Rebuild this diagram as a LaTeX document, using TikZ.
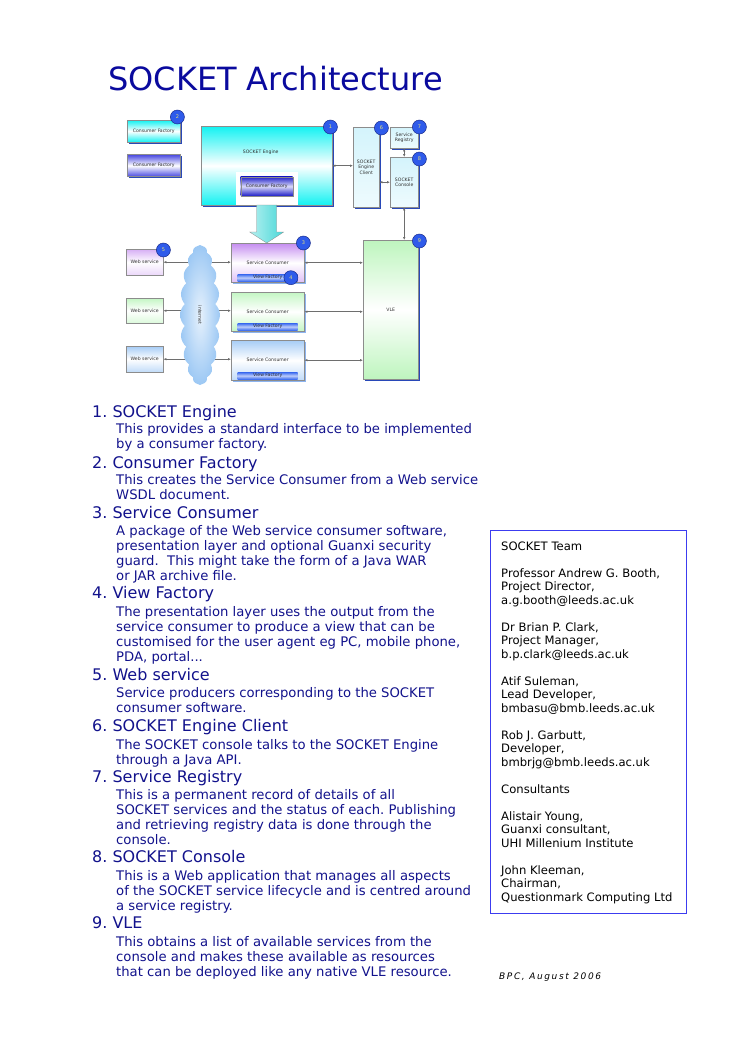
\documentclass[tikz,border=0pt]{standalone}
\usepackage{fontspec}
\setmainfont{DejaVu Sans}
\usepackage{tikz}
\usetikzlibrary{positioning,calc,shapes.symbols,shadows,arrows.meta}
\frenchspacing
\definecolor{titleblue}{HTML}{0A0A9E}
\definecolor{navy}{HTML}{12128C}
\definecolor{teamblue}{HTML}{3C3CF0}
\definecolor{boxline}{HTML}{8C8C8C}
\definecolor{boxtext}{HTML}{303030}
\definecolor{shadowblue}{HTML}{2848B8}
\definecolor{shadowlight}{HTML}{8CB4F0}
\definecolor{badgeblue}{HTML}{2F5BEA}
\definecolor{badgeedge}{HTML}{1A2C8C}
\definecolor{badgetext}{HTML}{E6E27A}
\definecolor{engcyan}{HTML}{12F2F2}
\definecolor{cfblue}{HTML}{4848E0}
\definecolor{cfdark}{HTML}{2020C8}
\definecolor{paleblue}{HTML}{D4F4FC}
\definecolor{vlegreen}{HTML}{BEF5BE}
\definecolor{scpurple}{HTML}{C58CF0}
\definecolor{scgreen}{HTML}{C4F6C4}
\definecolor{scblue}{HTML}{A6CCF6}
\definecolor{barblue}{HTML}{3C6CF0}
\definecolor{cloudblue}{HTML}{9CC8F4}
\definecolor{arrowcyan}{HTML}{48D8D8}
\definecolor{linegray}{HTML}{6E6E6E}

\begin{document}
\begin{tikzpicture}[x=1pt,y=-1pt,
  font=\fontsize{4.6}{5.4}\selectfont,
  every node/.style={align=center},
  box/.style={rectangle,draw=boxline,line width=0.4pt,inner sep=0pt,anchor=north west,text=boxtext},
  shad/.style={drop shadow={shadow xshift=1.6pt,shadow yshift=-1.6pt,fill=shadowblue,opacity=1}},
  lightshad/.style={drop shadow={shadow xshift=1.4pt,shadow yshift=-1.4pt,fill=shadowlight,opacity=1}},
  badge/.style={circle,draw=badgeedge,line width=0.5pt,fill=badgeblue,minimum size=14pt,inner sep=0pt,text=badgetext,font=\fontsize{5}{5}\selectfont},
  vfbar/.style={rectangle,inner sep=0pt,minimum width=60pt,minimum height=7pt,top color=barblue,bottom color=barblue,middle color=barblue!35!white,text=boxtext},
  link/.style={<->,draw=linegray,line width=0.6pt},
  heading/.style={anchor=base west,inner sep=0pt,text=navy,font=\fontsize{16}{19}\selectfont},
  body/.style={anchor=base west,inner sep=0pt,align=left,text=navy,font=\fontsize{13.2}{15}\selectfont},
  >={Latex[length=3pt,width=2.6pt]}
]
\useasboundingbox[fill=white] (0,0) rectangle (744,1052);

\node[anchor=base west,inner sep=0pt,text=titleblue,font=\fontsize{32}{38}\selectfont] (title) at (108,90) {SOCKET Architecture};

% diagram
\node[box,shad,top color=engcyan,bottom color=engcyan,middle color=white,minimum width=53pt,minimum height=22pt] (cf1) at (127,120) {Consumer Factory};
\node[box,shad,top color=cfblue,bottom color=cfblue,middle color=white,minimum width=53pt,minimum height=22pt,below=12pt of cf1] (cf2) {Consumer Factory};

\node[box,shad,top color=engcyan,bottom color=engcyan,middle color=white,minimum width=131pt,minimum height=79pt] (eng) at (201,126) {};
\node[inner sep=0pt,text=boxtext] (englbl) at ($(eng.north)+(-6,26)$) {SOCKET Engine};
\node[rectangle,fill=white,inner sep=0pt,minimum width=62pt,minimum height=33pt,anchor=south] (cfwrap) at ($(eng.south)+(0,-0.4)$) {};
\node[box,shad,anchor=center,top color=cfdark,bottom color=cfdark,middle color=cfblue!20!white,minimum width=52pt,minimum height=19pt] (cfin) at ($(cfwrap.center)+(0,-2)$) {Consumer Factory};

\node[box,shad,top color=paleblue,bottom color=paleblue!40!white,minimum width=26pt,minimum height=80pt] (cli) at (353,127) {SOCKET\\Engine\\Client};
\node[box,shad,top color=paleblue,bottom color=paleblue!40!white,minimum width=28pt,minimum height=21pt] (reg) at (390,127) {Service\\Registry};
\node[box,shad,top color=paleblue,bottom color=paleblue!40!white,minimum width=28pt,minimum height=50pt] (con) at (390,157) {SOCKET\\Console};
\node[box,shad,top color=vlegreen,bottom color=vlegreen,middle color=white,minimum width=55pt,minimum height=139pt] (vle) at (363,240) {VLE};

\node[box,lightshad,top color=scpurple,bottom color=scpurple!55!white,middle color=white,minimum width=73pt,minimum height=39pt] (sc1) at (231,243) {Service Consumer};
\node[box,lightshad,top color=scgreen,bottom color=scgreen,middle color=white,minimum width=73pt,minimum height=39pt] (sc2) at (231,292) {Service Consumer};
\node[box,lightshad,top color=scblue,bottom color=scblue!70!white,middle color=white,minimum width=73pt,minimum height=40pt] (sc3) at (231,340) {Service Consumer};
\node[vfbar,above=1pt of sc1.south] (vf1) {View Factory};
\node[vfbar,above=1pt of sc2.south] (vf2) {View Factory};
\node[vfbar,above=1pt of sc3.south] (vf3) {View Factory};

\node[box,top color=scpurple!70!white,bottom color=scpurple!35!white,middle color=white,minimum width=37pt,minimum height=26pt] (ws1) at (126,249) {Web service};
\node[box,top color=scgreen,bottom color=scgreen!60!white,middle color=white,minimum width=37pt,minimum height=25pt] (ws2) at (126,298) {Web service};
\node[box,top color=scblue,bottom color=scblue!70!white,middle color=white,minimum width=37pt,minimum height=26pt] (ws3) at (126,346) {Web service};

% connectors
\draw[link] (eng.east) -- (eng.east -| cli.west);
\draw[link] (con.west) -- (con.west -| cli.east);
\draw[link] (reg.south) -- (con.north);
\draw[link] (con.south) -- (con.south |- vle.north);
\draw[link] (ws1.east) -- (ws1.east -| sc1.west);
\draw[link] (ws2.east) -- (ws2.east -| sc2.west);
\draw[link] (ws3.east) -- (ws3.east -| sc3.west);
\draw[link] (sc1.east) -- (sc1.east -| vle.west);
\draw[link] (sc2.east) -- (sc2.east -| vle.west);
\draw[link] (sc3.east) -- (sc3.east -| vle.west);

\node[cloud,cloud puffs=20,cloud puff arc=95,aspect=0.29,minimum width=40pt,minimum height=140pt,inner color=cloudblue!25!white,outer color=cloudblue,text=boxtext] (net) at (200,315) {\rotatebox{-90}{internet}};

\shade[left color=arrowcyan!40!white,right color=arrowcyan,draw=boxline,line width=0.3pt]
  ($(cfwrap.south)+(-10,0)$) -- ($(cfwrap.south)+(10,0)$) -- ($(cfwrap.south |- sc1.north)+(10,-11)$)
  -- ($(cfwrap.south |- sc1.north)+(17,-11)$) -- (cfwrap.south |- sc1.north)
  -- ($(cfwrap.south |- sc1.north)+(-17,-11)$) -- ($(cfwrap.south |- sc1.north)+(-10,-11)$) -- cycle;

\node[badge] (b1) at ($(eng.north east)+(-2,1)$) {1};
\node[badge] (b2) at ($(cf1.north east)+(-3,-3)$) {2};
\node[badge] (b3) at ($(sc1.north east)+(-1,0)$) {3};
\node[badge] (b4) at ($(vf1.east)+(-7,0)$) {4};
\node[badge] (b5) at ($(ws1.north east)+(0,1)$) {5};
\node[badge] (b6) at ($(cli.north east)+(2,1)$) {6};
\node[badge] (b7) at ($(reg.north east)+(1,0)$) {7};
\node[badge] (b8) at ($(con.north east)+(1,2)$) {8};
\node[badge] (b9) at ($(vle.north east)+(1,1)$) {9};

% numbered notes (body nodes sit on the baseline of their last line)
\node[heading] (h1) at (92,417) {1. SOCKET Engine};
\node[body] (t1) at (116,448.5) {This provides a standard interface to be implemented\\by a consumer factory.};
\node[heading] (h2) at (92,468) {2. Consumer Factory};
\node[body] (t2) at (116,499.5) {This creates the Service Consumer from a Web service\\WSDL document.};
\node[heading] (h3) at (92,518) {3. Service Consumer};
\node[body] (t3) at (116,580) {A package of the Web service consumer software,\\presentation layer and optional Guanxi security\\guard.~ This might take the form of a Java WAR\\or JAR archive file.};
\node[heading] (h4) at (92,598.5) {4. View Factory};
\node[body] (t4) at (116,661) {The presentation layer uses the output from the\\service consumer to produce a view that can be\\customised for the user agent eg PC, mobile phone,\\PDA, portal...};
\node[heading] (h5) at (92,680) {5. Web service};
\node[body] (t5) at (116,712.3) {Service producers corresponding to the SOCKET\\consumer software.};
\node[heading] (h6) at (92,731.5) {6. SOCKET Engine Client};
\node[body] (t6) at (116,764) {The SOCKET console talks to the SOCKET Engine\\through a Java API.};
\node[heading] (h7) at (92,782.3) {7. Service Registry};
\node[body] (t7) at (116,844.3) {This is a permanent record of details of all\\SOCKET services and the status of each. Publishing\\and retrieving registry data is done through the\\console.};
\node[heading] (h8) at (92,862.7) {8. SOCKET Console};
\node[body] (t8) at (116,910.3) {This is a Web application that manages all aspects\\of the SOCKET service lifecycle and is centred around\\a service registry.};
\node[heading] (h9) at (92,928.7) {9. VLE};
\node[body] (t9) at (116,976) {This obtains a list of available services from the\\console and makes these available as resources\\that can be deployed like any native VLE resource.};

% team box
\node[rectangle,draw=teamblue,line width=1.2pt,anchor=north west,inner sep=0pt,minimum width=196pt,minimum height=383pt] (teambox) at (490,530) {};
\node[anchor=base west,inner sep=0pt,align=left,font=\fontsize{11.6}{13.5}\selectfont] (team) at (501,901) {SOCKET Team\\[13.5pt]
Professor Andrew G. Booth,\\Project Director,\\a.g.booth@leeds.ac.uk\\[13.5pt]
Dr Brian P. Clark,\\Project Manager,\\b.p.clark@leeds.ac.uk\\[13.5pt]
Atif Suleman,\\Lead Developer,\\bmbasu@bmb.leeds.ac.uk\\[13.5pt]
Rob J. Garbutt,\\Developer,\\bmbrjg@bmb.leeds.ac.uk\\[13.5pt]
Consultants\\[13.5pt]
Alistair Young,\\Guanxi consultant,\\UHI Millenium Institute\\[13.5pt]
John Kleeman,\\Chairman,\\Questionmark Computing Ltd};
\node[anchor=base west,inner sep=0pt,font=\fontsize{9}{11}\selectfont\itshape\addfontfeature{LetterSpace=18}] (date) at (499,979) {BPC, August 2006};
\end{tikzpicture}
\end{document}
